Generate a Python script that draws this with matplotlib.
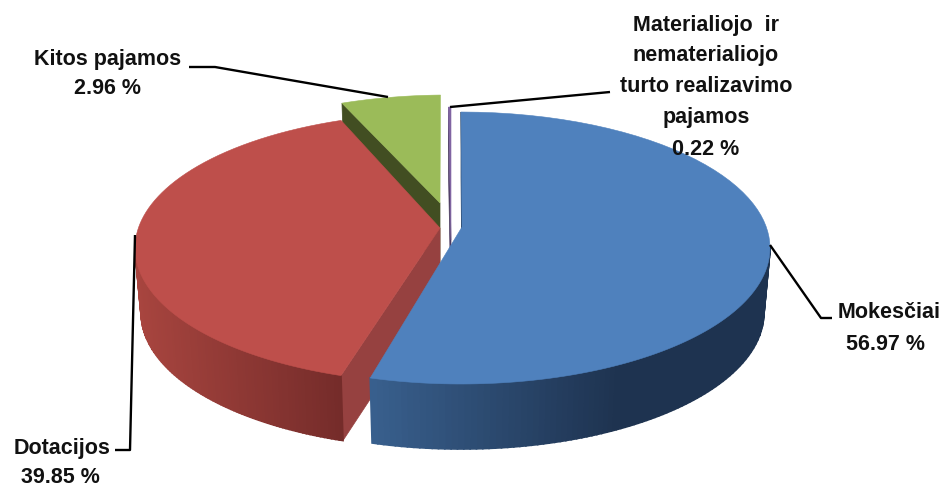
import numpy as np
import matplotlib
matplotlib.use("Agg")
import matplotlib.pyplot as plt
from matplotlib.patches import Polygon
from matplotlib.colors import to_rgb

categories = ["Mokesčiai", "Dotacijos", "Kitos pajamos",
              "Materialiojo  ir\nnematerialiojo\nturto realizavimo\npajamos"]
values = [56.97, 39.85, 2.96, 0.22]
value_labels = ["56.97 %", "39.85 %", "2.96 %", "0.22 %"]

colors = ["#4F81BD", "#BE4F4B", "#9BBB59", "#8064A2"]
side_light = ["#39608E", "#A8453F", "#4A5A28", "#5A4675"]
side_dark = ["#1E3350", "#752C2A", "#3A4720", "#3A2C50"]
cut = ["#27405F", "#964140", "#424E22", "#4A3A60"]
apex = [(462, 227), (440, 228), (440, 203), (451, 240)]
centers = [(461, 248), (441, 248), (448, 217), (451, 232)]
radii = [(309, 136), (306, 135), (295, 122), (100, 125)]
rotation = [0, 2, 0, 0]
depth = 65
wall_scale = 0.98

plt.rcParams["font.family"] = ["Liberation Sans", "DejaVu Sans"]
fig = plt.figure(figsize=(9.48, 4.86), dpi=100)
ax = fig.add_axes([0, 0, 1, 1])
ax.set_xlim(0, 948)
ax.set_ylim(486, 0)
ax.axis("off")


def warp(deg):
    r = np.radians(deg)
    return deg + 33.1 * np.sin(r) + 7.84 * np.sin(2 * r)


def rim(i, a, b, n=120):
    th = np.radians(warp(np.linspace(a, b, n)) + rotation[i])
    cx, cy = centers[i]
    rx, ry = radii[i]
    return cx + rx * np.sin(th), cy - ry * np.cos(th), th


zo = [10]


def add(poly, fc, lw=0.6):
    zo[0] += 1
    ax.add_patch(Polygon(poly, closed=True, fc=fc, ec=fc, lw=lw, zorder=zo[0]))


def draw_slice(i, a, b):
    x, y, th = rim(i, a, b)
    ax0, ay0 = apex[i]
    cx = centers[i][0]
    xb = cx + (x - cx) * wall_scale
    c0, c1 = np.array(to_rgb(side_light[i])), np.array(to_rgb(side_dark[i]))
    # radial face at the start of the slice
    add([(ax0, ay0), (x[0], y[0]), (xb[0], y[0] + depth), (ax0, ay0 + depth)], cut[i], 0.5)
    # outer wall, shaded along the rim
    x0, x1 = x.min(), x.max()
    for k in range(len(x) - 1):
        if np.cos((th[k] + th[k + 1]) / 2) > 0.02:
            continue
        t = (x[k] - x0) / max(x1 - x0, 1)
        col = c0 + (c1 - c0) * (t if i == 1 else min(t * 1.6, 1))
        add([(x[k], y[k]), (x[k + 1], y[k + 1]),
             (xb[k + 1], y[k + 1] + depth), (xb[k], y[k] + depth)], col, 1.2)
    add(np.column_stack([np.r_[ax0, x], np.r_[ay0, y]]), colors[i], 0.4)


edges = np.r_[0, np.cumsum(values)] / sum(values) * 360
for i in (2, 3, 1, 0):
    draw_slice(i, edges[i], edges[i + 1])

leaders = [
    ([770, 821, 832], [245, 318, 318]),
    ([135, 130, 115], [235, 450, 450]),
    ([189, 215, 388], [67, 67, 97]),
    ([610, 450], [92, 107]),
]
for xs, ys in leaders:
    ax.plot(xs, ys, color="black", lw=1.7, zorder=5000, solid_capstyle="butt")

kw = dict(fontsize=15.5, fontweight="bold", color="#111111", ha="center",
          va="center", zorder=6000)
ax.text(889, 312, categories[0], **kw)
ax.text(886, 344, value_labels[0], **kw)
ax.text(62, 448, categories[1], **kw)
ax.text(60, 477, value_labels[1], **kw)
ax.text(108, 59, categories[2], **kw)
ax.text(108, 89, value_labels[2], **kw)
for line, yy in zip(categories[3].split("\n"), (25, 55, 87, 117)):
    ax.text(706, yy, line, **kw)
ax.text(706, 149, value_labels[3], **kw)

fig.savefig("out.png", dpi=100)
